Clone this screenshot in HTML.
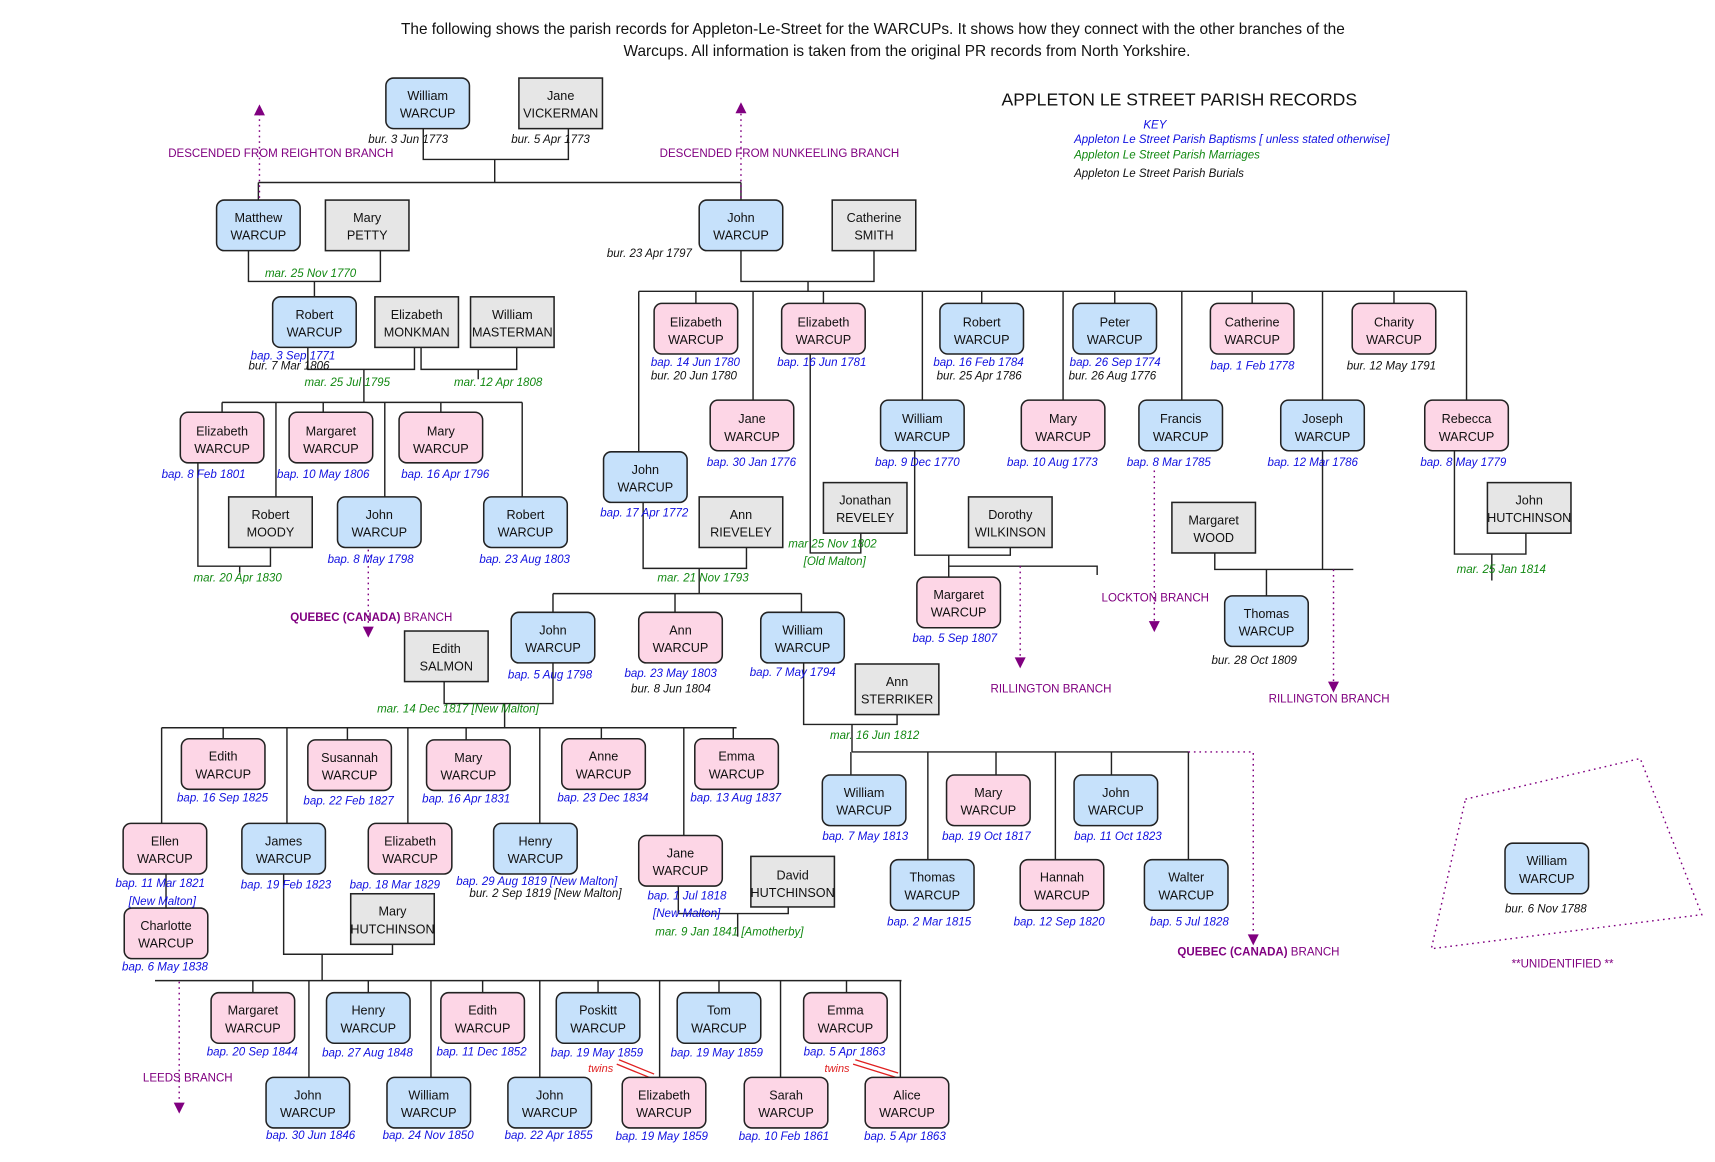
<!DOCTYPE html>
<html><head><meta charset="utf-8"><style>
html,body{margin:0;padding:0;background:#fff;}
svg{display:block;}
text{font-family:"Liberation Sans",sans-serif;}
.n{font-size:11.5px;fill:#111;text-anchor:middle;}
.b{font-size:10.5px;fill:#1010e0;font-style:italic;}
.g{font-size:10.5px;fill:#118811;font-style:italic;}
.k{font-size:10.5px;fill:#111;font-style:italic;}
.p{font-size:10.5px;fill:#800080;}
.bl{fill:#c6e1fb;stroke:#222;stroke-width:1.4;}
.pk{fill:#fdd6e6;stroke:#222;stroke-width:1.4;}
.gr{fill:#e6e6e6;stroke:#222;stroke-width:1.4;}
.l{stroke:#222;stroke-width:1.3;fill:none;}
.d{stroke:#800080;stroke-width:1.3;stroke-dasharray:1.5 3.5;fill:none;}
.a{fill:#800080;}
</style></head><body>
<svg width="1715" height="1162" viewBox="0 0 1560 1057" xmlns="http://www.w3.org/2000/svg">
<text x="794" y="31" style="font-size:14px;text-anchor:middle;fill:#111">The following shows the parish records for Appleton-Le-Street for the WARCUPs. It shows how they connect with the other branches of the</text>
<text x="825" y="51" style="font-size:14px;text-anchor:middle;fill:#111">Warcups. All information is taken from the original PR records from North Yorkshire.</text>
<text x="911" y="96" style="font-size:16px;fill:#111">APPLETON LE STREET PARISH RECORDS</text>
<text x="1040" y="117" class="b">KEY</text>
<text x="977" y="130" class="b">Appleton Le Street Parish Baptisms [ unless stated otherwise]</text>
<text x="977" y="144" class="g">Appleton Le Street Parish Marriages</text>
<text x="977" y="161" class="k">Appleton Le Street Parish Burials</text>

<!-- connectors -->
<g class="l">
<path d="M385 117V145H517V117M450 145V166M235 166H674M235 166V182M674 166V182"/>
<path d="M226 228V256H346V228M286 256V270"/>
<path d="M280 316V336H377V316M331 336V366M383 316V336H470V316M435 336V345"/>
<path d="M202 366H475M202 366V375M294 366V375M401 366V375M251 366V452M350 366V452M475 366V452"/>
<path d="M180 421V515H246V498M218 515V521"/>
<path d="M674 228V256H795V228M735 256V265M581 265H1334"/>
<path d="M633 265V276M749 265V276M893 265V276M1014 265V276M1139 265V276M1268 265V276"/>
<path d="M581 265V411M685 265V364M839 265V364M967 265V364M1075 265V364M1203 265V364M1334 265V364"/>
<path d="M737 322V503H783V485"/>
<path d="M585 457V517H679V498M636 517V540M503 540H729M503 540V557M614 540V557M729 540V557"/>
<path d="M832 410V505H919V498M863 505V525M863 515H998V523"/>
<path d="M1203 410V518M1105 503V518H1231M1152 518V542"/>
<path d="M1323 410V504H1388V485M1357 504V528"/>
<path d="M404 620V640H503V603M459 640V662M147 662H670"/>
<path d="M147 662V749M203 662V672M261 662V749M316 662V673M371 662V749M424 662V673M491 662V749M547 662V672M622 662V760M667 662V672"/>
<path d="M151 795V826"/>
<path d="M258 795V868H357V859M293 868V892M141 892H820"/>
<path d="M230 892V903M281 892V980M335 892V903M392 892V980M439 892V903M491 892V980M544 892V903M600 892V980M654 892V903M710 892V980M770 892V903M819 892V980"/>
<path d="M617 806V831H717V825M671 831V852"/>
<path d="M731 603V659H816V650M775 659V684M775 684H1081"/>
<path d="M774 684V705M844 684V782M906 684V705M960 684V782M1011 684V705M1081 684V782"/>
</g>
<g class="d">
<path d="M236 180V104M674 180V102M335 495V570M928 515V598M1050 428V565M1213 518V620M163 893V1003M1081 684H1140V850"/>
<path d="M1333 727L1492 690L1548 832L1302 863Z"/>
</g>
<g class="a">
<path d="M231 105L236 95L241 105Z"/><path d="M669 103L674 93L679 103Z"/>
<path d="M330 570L335 580L340 570Z"/><path d="M923 598L928 608L933 598Z"/>
<path d="M1045 565L1050 575L1055 565Z"/><path d="M1208 620L1213 630L1218 620Z"/>
<path d="M158 1003L163 1013L168 1003Z"/><path d="M1135 850L1140 860L1145 850Z"/>
</g>
<g style="stroke:#e02020;stroke-width:1.2">
<path d="M563 964L595 977M561 968L593 981M778 964L817 976M776 968L815 980"/>
</g>
<text x="535" y="975" style="font-size:10px;fill:#e02020;font-style:italic">twins</text>
<text x="750" y="975" style="font-size:10px;fill:#e02020;font-style:italic">twins</text>

<!-- boxes -->
<g>
<rect class="bl" x="351" y="71" width="76" height="46" rx="7"/><rect class="gr" x="472" y="71" width="76" height="46"/>
<rect class="bl" x="197" y="182" width="76" height="46" rx="7"/><rect class="gr" x="296" y="182" width="76" height="46"/>
<rect class="bl" x="636" y="182" width="76" height="46" rx="7"/><rect class="gr" x="757" y="182" width="76" height="46"/>
<rect class="bl" x="248" y="270" width="76" height="46" rx="7"/><rect class="gr" x="341" y="270" width="76" height="46"/><rect class="gr" x="428" y="270" width="76" height="46"/>
<rect class="pk" x="595" y="276" width="76" height="46" rx="7"/><rect class="pk" x="711" y="276" width="76" height="46" rx="7"/><rect class="bl" x="855" y="276" width="76" height="46" rx="7"/><rect class="bl" x="976" y="276" width="76" height="46" rx="7"/><rect class="pk" x="1101" y="276" width="76" height="46" rx="7"/><rect class="pk" x="1230" y="276" width="76" height="46" rx="7"/>
<rect class="pk" x="646" y="364" width="76" height="46" rx="7"/><rect class="bl" x="801" y="364" width="76" height="46" rx="7"/><rect class="pk" x="929" y="364" width="76" height="46" rx="7"/><rect class="bl" x="1036" y="364" width="76" height="46" rx="7"/><rect class="bl" x="1165" y="364" width="76" height="46" rx="7"/><rect class="pk" x="1296" y="364" width="76" height="46" rx="7"/>
<rect class="bl" x="549" y="411" width="76" height="46" rx="7"/>
<rect class="gr" x="636" y="452" width="76" height="46"/><rect class="gr" x="749" y="439" width="76" height="46"/><rect class="gr" x="881" y="452" width="76" height="46"/><rect class="gr" x="1066" y="457" width="76" height="46"/><rect class="gr" x="1353" y="439" width="76" height="46"/>
<rect class="pk" x="164" y="375" width="76" height="46" rx="7"/><rect class="pk" x="263" y="375" width="76" height="46" rx="7"/><rect class="pk" x="363" y="375" width="76" height="46" rx="7"/>
<rect class="gr" x="208" y="452" width="76" height="46"/><rect class="bl" x="307" y="452" width="76" height="46" rx="7"/><rect class="bl" x="440" y="452" width="76" height="46" rx="7"/>
<rect class="pk" x="834" y="525" width="76" height="46" rx="7"/><rect class="bl" x="1114" y="542" width="76" height="46" rx="7"/>
<rect class="bl" x="465" y="557" width="76" height="46" rx="7"/><rect class="pk" x="581" y="557" width="76" height="46" rx="7"/><rect class="bl" x="692" y="557" width="76" height="46" rx="7"/>
<rect class="gr" x="368" y="574" width="76" height="46"/><rect class="gr" x="778" y="604" width="76" height="46"/>
<rect class="pk" x="165" y="672" width="76" height="46" rx="7"/><rect class="pk" x="280" y="673" width="76" height="46" rx="7"/><rect class="pk" x="388" y="673" width="76" height="46" rx="7"/><rect class="pk" x="511" y="672" width="76" height="46" rx="7"/><rect class="pk" x="632" y="672" width="76" height="46" rx="7"/>
<rect class="pk" x="112" y="749" width="76" height="46" rx="7"/><rect class="bl" x="220" y="749" width="76" height="46" rx="7"/><rect class="pk" x="335" y="749" width="76" height="46" rx="7"/><rect class="bl" x="449" y="749" width="76" height="46" rx="7"/><rect class="pk" x="581" y="760" width="76" height="46" rx="7"/>
<rect class="gr" x="683" y="779" width="76" height="46"/><rect class="pk" x="113" y="826" width="76" height="46" rx="7"/><rect class="gr" x="319" y="813" width="76" height="46"/>
<rect class="bl" x="748" y="705" width="76" height="46" rx="7"/><rect class="pk" x="861" y="705" width="76" height="46" rx="7"/><rect class="bl" x="977" y="705" width="76" height="46" rx="7"/>
<rect class="bl" x="810" y="782" width="76" height="46" rx="7"/><rect class="pk" x="928" y="782" width="76" height="46" rx="7"/><rect class="bl" x="1041" y="782" width="76" height="46" rx="7"/>
<rect class="bl" x="1369" y="767" width="76" height="46" rx="7"/>
<rect class="pk" x="192" y="903" width="76" height="46" rx="7"/><rect class="bl" x="297" y="903" width="76" height="46" rx="7"/><rect class="pk" x="401" y="903" width="76" height="46" rx="7"/><rect class="bl" x="506" y="903" width="76" height="46" rx="7"/><rect class="bl" x="616" y="903" width="76" height="46" rx="7"/><rect class="pk" x="731" y="903" width="76" height="46" rx="7"/>
<rect class="bl" x="242" y="980" width="76" height="46" rx="7"/><rect class="bl" x="352" y="980" width="76" height="46" rx="7"/><rect class="bl" x="462" y="980" width="76" height="46" rx="7"/><rect class="pk" x="566" y="980" width="76" height="46" rx="7"/><rect class="pk" x="677" y="980" width="76" height="46" rx="7"/><rect class="pk" x="787" y="980" width="76" height="46" rx="7"/>
</g>

<!-- box names -->
<g class="n">
<text x="389" y="91">William</text><text x="389" y="107">WARCUP</text>
<text x="510" y="91">Jane</text><text x="510" y="107">VICKERMAN</text>
<text x="235" y="202">Matthew</text><text x="235" y="218">WARCUP</text>
<text x="334" y="202">Mary</text><text x="334" y="218">PETTY</text>
<text x="674" y="202">John</text><text x="674" y="218">WARCUP</text>
<text x="795" y="202">Catherine</text><text x="795" y="218">SMITH</text>
<text x="286" y="290">Robert</text><text x="286" y="306">WARCUP</text>
<text x="379" y="290">Elizabeth</text><text x="379" y="306">MONKMAN</text>
<text x="466" y="290">William</text><text x="466" y="306">MASTERMAN</text>
<text x="633" y="297">Elizabeth</text><text x="633" y="313">WARCUP</text>
<text x="749" y="297">Elizabeth</text><text x="749" y="313">WARCUP</text>
<text x="893" y="297">Robert</text><text x="893" y="313">WARCUP</text>
<text x="1014" y="297">Peter</text><text x="1014" y="313">WARCUP</text>
<text x="1139" y="297">Catherine</text><text x="1139" y="313">WARCUP</text>
<text x="1268" y="297">Charity</text><text x="1268" y="313">WARCUP</text>
<text x="684" y="385">Jane</text><text x="684" y="401">WARCUP</text>
<text x="839" y="385">William</text><text x="839" y="401">WARCUP</text>
<text x="967" y="385">Mary</text><text x="967" y="401">WARCUP</text>
<text x="1074" y="385">Francis</text><text x="1074" y="401">WARCUP</text>
<text x="1203" y="385">Joseph</text><text x="1203" y="401">WARCUP</text>
<text x="1334" y="385">Rebecca</text><text x="1334" y="401">WARCUP</text>
<text x="587" y="431">John</text><text x="587" y="447">WARCUP</text>
<text x="674" y="472">Ann</text><text x="674" y="488">RIEVELEY</text>
<text x="787" y="459">Jonathan</text><text x="787" y="475">REVELEY</text>
<text x="919" y="472">Dorothy</text><text x="919" y="488">WILKINSON</text>
<text x="1104" y="477">Margaret</text><text x="1104" y="493">WOOD</text>
<text x="1391" y="459">John</text><text x="1391" y="475">HUTCHINSON</text>
<text x="202" y="396">Elizabeth</text><text x="202" y="412">WARCUP</text>
<text x="301" y="396">Margaret</text><text x="301" y="412">WARCUP</text>
<text x="401" y="396">Mary</text><text x="401" y="412">WARCUP</text>
<text x="246" y="472">Robert</text><text x="246" y="488">MOODY</text>
<text x="345" y="472">John</text><text x="345" y="488">WARCUP</text>
<text x="478" y="472">Robert</text><text x="478" y="488">WARCUP</text>
<text x="872" y="545">Margaret</text><text x="872" y="561">WARCUP</text>
<text x="1152" y="562">Thomas</text><text x="1152" y="578">WARCUP</text>
<text x="503" y="577">John</text><text x="503" y="593">WARCUP</text>
<text x="619" y="577">Ann</text><text x="619" y="593">WARCUP</text>
<text x="730" y="577">William</text><text x="730" y="593">WARCUP</text>
<text x="406" y="594">Edith</text><text x="406" y="610">SALMON</text>
<text x="816" y="624">Ann</text><text x="816" y="640">STERRIKER</text>
<text x="203" y="692">Edith</text><text x="203" y="708">WARCUP</text>
<text x="318" y="693">Susannah</text><text x="318" y="709">WARCUP</text>
<text x="426" y="693">Mary</text><text x="426" y="709">WARCUP</text>
<text x="549" y="692">Anne</text><text x="549" y="708">WARCUP</text>
<text x="670" y="692">Emma</text><text x="670" y="708">WARCUP</text>
<text x="150" y="769">Ellen</text><text x="150" y="785">WARCUP</text>
<text x="258" y="769">James</text><text x="258" y="785">WARCUP</text>
<text x="373" y="769">Elizabeth</text><text x="373" y="785">WARCUP</text>
<text x="487" y="769">Henry</text><text x="487" y="785">WARCUP</text>
<text x="619" y="780">Jane</text><text x="619" y="796">WARCUP</text>
<text x="721" y="800">David</text><text x="721" y="816">HUTCHINSON</text>
<text x="151" y="846">Charlotte</text><text x="151" y="862">WARCUP</text>
<text x="357" y="833">Mary</text><text x="357" y="849">HUTCHINSON</text>
<text x="786" y="725">William</text><text x="786" y="741">WARCUP</text>
<text x="899" y="725">Mary</text><text x="899" y="741">WARCUP</text>
<text x="1015" y="725">John</text><text x="1015" y="741">WARCUP</text>
<text x="848" y="802">Thomas</text><text x="848" y="818">WARCUP</text>
<text x="966" y="802">Hannah</text><text x="966" y="818">WARCUP</text>
<text x="1079" y="802">Walter</text><text x="1079" y="818">WARCUP</text>
<text x="1407" y="787">William</text><text x="1407" y="803">WARCUP</text>
<text x="230" y="923">Margaret</text><text x="230" y="939">WARCUP</text>
<text x="335" y="923">Henry</text><text x="335" y="939">WARCUP</text>
<text x="439" y="923">Edith</text><text x="439" y="939">WARCUP</text>
<text x="544" y="923">Poskitt</text><text x="544" y="939">WARCUP</text>
<text x="654" y="923">Tom</text><text x="654" y="939">WARCUP</text>
<text x="769" y="923">Emma</text><text x="769" y="939">WARCUP</text>
<text x="280" y="1000">John</text><text x="280" y="1016">WARCUP</text>
<text x="390" y="1000">William</text><text x="390" y="1016">WARCUP</text>
<text x="500" y="1000">John</text><text x="500" y="1016">WARCUP</text>
<text x="604" y="1000">Elizabeth</text><text x="604" y="1016">WARCUP</text>
<text x="715" y="1000">Sarah</text><text x="715" y="1016">WARCUP</text>
<text x="825" y="1000">Alice</text><text x="825" y="1016">WARCUP</text>
</g>

<!-- purple labels -->
<text x="153" y="143" class="p">DESCENDED FROM REIGHTON BRANCH</text>
<text x="600" y="143" class="p">DESCENDED FROM NUNKEELING BRANCH</text>
<text x="264" y="565" class="p"><tspan style="font-weight:bold">QUEBEC (CANADA)</tspan> BRANCH</text>
<text x="901" y="630" class="p">RILLINGTON BRANCH</text>
<text x="1002" y="547" class="p">LOCKTON BRANCH</text>
<text x="1154" y="639" class="p">RILLINGTON BRANCH</text>
<text x="1071" y="869" class="p"><tspan style="font-weight:bold">QUEBEC (CANADA)</tspan> BRANCH</text>
<text x="1375" y="880" class="p">**UNIDENTIFIED **</text>
<text x="130" y="984" class="p">LEEDS BRANCH</text>

<!-- dates -->
<text x="335" y="130" class="k">bur. 3 Jun 1773</text>
<text x="465" y="130" class="k">bur. 5 Apr 1773</text>
<text x="241" y="252" class="g">mar. 25 Nov 1770</text>
<text x="552" y="234" class="k">bur. 23 Apr 1797</text>
<text x="228" y="327" class="b">bap. 3 Sep 1771</text>
<text x="226" y="336" class="k">bur. 7 Mar 1806</text>
<text x="277" y="351" class="g">mar. 25 Jul 1795</text>
<text x="413" y="351" class="g">mar. 12 Apr 1808</text>
<text x="592" y="333" class="b">bap. 14 Jun 1780</text>
<text x="592" y="345" class="k">bur. 20 Jun 1780</text>
<text x="707" y="333" class="b">bap. 16 Jun 1781</text>
<text x="849" y="333" class="b">bap. 16 Feb 1784</text>
<text x="852" y="345" class="k">bur. 25 Apr 1786</text>
<text x="973" y="333" class="b">bap. 26 Sep 1774</text>
<text x="972" y="345" class="k">bur. 26 Aug 1776</text>
<text x="1101" y="336" class="b">bap. 1 Feb 1778</text>
<text x="1225" y="336" class="k">bur. 12 May 1791</text>
<text x="643" y="424" class="b">bap. 30 Jan 1776</text>
<text x="796" y="424" class="b">bap. 9 Dec 1770</text>
<text x="916" y="424" class="b">bap. 10 Aug 1773</text>
<text x="1025" y="424" class="b">bap. 8 Mar 1785</text>
<text x="1153" y="424" class="b">bap. 12 Mar 1786</text>
<text x="1292" y="424" class="b">bap. 8 May 1779</text>
<text x="147" y="435" class="b">bap. 8 Feb 1801</text>
<text x="252" y="435" class="b">bap. 10 May 1806</text>
<text x="365" y="435" class="b">bap. 16 Apr 1796</text>
<text x="546" y="470" class="b">bap. 17 Apr 1772</text>
<text x="717" y="498" class="g">mar 25 Nov 1802</text>
<text x="731" y="514" class="g">[Old Malton]</text>
<text x="298" y="512" class="b">bap. 8 May 1798</text>
<text x="436" y="512" class="b">bap. 23 Aug 1803</text>
<text x="598" y="529" class="g">mar. 21 Nov 1793</text>
<text x="176" y="529" class="g">mar. 20 Apr 1830</text>
<text x="1325" y="521" class="g">mar. 25 Jan 1814</text>
<text x="830" y="584" class="b">bap. 5 Sep 1807</text>
<text x="1102" y="604" class="k">bur. 28 Oct 1809</text>
<text x="462" y="617" class="b">bap. 5 Aug 1798</text>
<text x="568" y="616" class="b">bap. 23 May 1803</text>
<text x="574" y="630" class="k">bur. 8 Jun 1804</text>
<text x="682" y="615" class="b">bap. 7 May 1794</text>
<text x="343" y="648" class="g">mar. 14 Dec 1817 [New Malton]</text>
<text x="755" y="672" class="g">mar. 16 Jun 1812</text>
<text x="161" y="729" class="b">bap. 16 Sep 1825</text>
<text x="276" y="732" class="b">bap. 22 Feb 1827</text>
<text x="384" y="730" class="b">bap. 16 Apr 1831</text>
<text x="507" y="729" class="b">bap. 23 Dec 1834</text>
<text x="628" y="729" class="b">bap. 13 Aug 1837</text>
<text x="748" y="764" class="b">bap. 7 May 1813</text>
<text x="857" y="764" class="b">bap. 19 Oct 1817</text>
<text x="977" y="764" class="b">bap. 11 Oct 1823</text>
<text x="105" y="807" class="b">bap. 11 Mar 1821</text>
<text x="117" y="823" class="b">[New Malton]</text>
<text x="219" y="808" class="b">bap. 19 Feb 1823</text>
<text x="318" y="808" class="b">bap. 18 Mar 1829</text>
<text x="415" y="805" class="b">bap. 29 Aug 1819 [New Malton]</text>
<text x="427" y="816" class="k">bur. 2 Sep 1819 [New Malton]</text>
<text x="589" y="818" class="b">bap. 1 Jul 1818</text>
<text x="594" y="834" class="b">[New Malton]</text>
<text x="111" y="883" class="b">bap. 6 May 1838</text>
<text x="807" y="842" class="b">bap. 2 Mar 1815</text>
<text x="922" y="842" class="b">bap. 12 Sep 1820</text>
<text x="1046" y="842" class="b">bap. 5 Jul 1828</text>
<text x="1369" y="830" class="k">bur. 6 Nov 1788</text>
<text x="596" y="851" class="g">mar. 9 Jan 1841 [Amotherby]</text>
<text x="188" y="960" class="b">bap. 20 Sep 1844</text>
<text x="293" y="961" class="b">bap. 27 Aug 1848</text>
<text x="397" y="960" class="b">bap. 11 Dec 1852</text>
<text x="501" y="961" class="b">bap. 19 May 1859</text>
<text x="610" y="961" class="b">bap. 19 May 1859</text>
<text x="731" y="960" class="b">bap. 5 Apr 1863</text>
<text x="242" y="1036" class="b">bap. 30 Jun 1846</text>
<text x="348" y="1036" class="b">bap. 24 Nov 1850</text>
<text x="459" y="1036" class="b">bap. 22 Apr 1855</text>
<text x="560" y="1037" class="b">bap. 19 May 1859</text>
<text x="672" y="1037" class="b">bap. 10 Feb 1861</text>
<text x="786" y="1037" class="b">bap. 5 Apr 1863</text>
</svg>
</body></html>
